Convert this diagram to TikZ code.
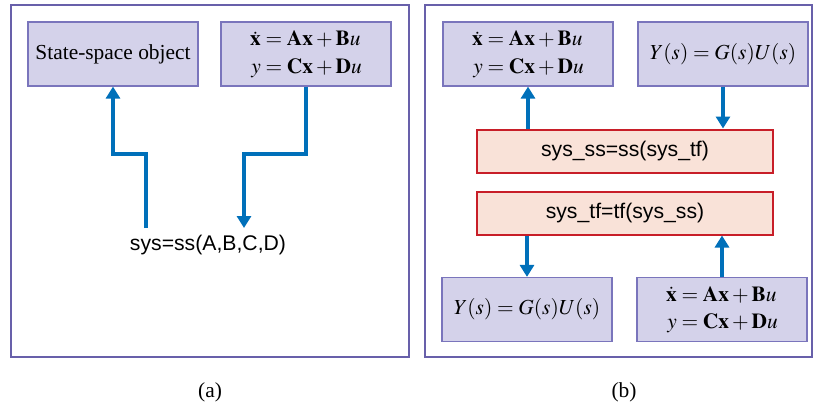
\documentclass[tikz,border=0pt]{standalone}
\usepackage{mathptmx}
\usepackage{fontspec}
\setmainfont{Liberation Serif}
\setsansfont{Liberation Sans}
\usetikzlibrary{arrows.meta}
\definecolor{panelc}{RGB}{104,96,170}
\definecolor{boxfill}{RGB}{212,210,234}
\definecolor{boxline}{RGB}{122,117,188}
\definecolor{redfill}{RGB}{249,226,216}
\definecolor{redline}{RGB}{200,30,40}
\definecolor{arrc}{RGB}{0,112,186}
\newcommand{\sseq}{$\renewcommand{\arraystretch}{1.15}\begin{array}{r@{\;}c@{\;}l}\dot{\mathbf{x}}&=&\mathbf{A}\mathbf{x}+\mathbf{B}u\\ y&=&\mathbf{C}\mathbf{x}+\mathbf{D}u\end{array}$}
\begin{document}
\begin{tikzpicture}[x=0.5pt,y=-0.5pt,
  panel/.style={draw=panelc,line width=1.3pt,fill=white,inner sep=0pt},
  bluebox/.style={draw=boxline,line width=0.6pt,fill=boxfill,inner sep=0pt,minimum width=85pt,minimum height=32pt,font=\fontsize{10.7}{12}\selectfont},
  redbox/.style={draw=redline,line width=1pt,fill=redfill,inner sep=0pt,minimum width=148pt,minimum height=21.5pt,font=\sffamily\fontsize{10.6}{12}\selectfont},
  arr/.style={draw=arrc,line width=1.6pt,-{Triangle[width=7pt,length=6pt]}},
  captext/.style={font=\fontsize{10.7}{12}\selectfont}]
\useasboundingbox (0,0) rectangle (814,407);
% panels
\node[panel,minimum width=199pt,minimum height=176pt] (pa) at (210,181) {};
\node[panel,minimum width=193.5pt,minimum height=176pt] (pb) at (618.5,181) {};
% panel (a)
\node[bluebox] (ss) at (113,54) {State-space object};
\node[bluebox] (eqa) at (306,54) {\sseq};
\node[font=\sffamily\fontsize{10.6}{12}\selectfont,inner sep=0pt] (sys) at (208,245) {sys=ss(A,B,C,D)};
\coordinate (sa) at (146,228);
\coordinate (ja) at (146,154);
\coordinate (jb) at (244,154);
\coordinate (tb) at (244,228);
\draw[arr] (sa) -- (ja) -| (ss.south);
\draw[arr] (eqa.south) |- (jb) -- (tb);
% panel (b)
\node[bluebox] (eqb) at (528,54) {\sseq};
\node[bluebox] (gb) at (723,54) {$Y(s)=G(s)U(s)$};
\node[redbox] (r1) at (625,151) {sys\_ss=ss(sys\_tf)};
\node[redbox] (r2) at (625,213) {sys\_tf=tf(sys\_ss)};
\node[bluebox] (gc) at (527,309.5) {$Y(s)=G(s)U(s)$};
\node[bluebox] (eqc) at (722,309.5) {\sseq};
\draw[arr] (r1.north -| eqb.south) -- (eqb.south);
\draw[arr] (gb.south) -- (gb.south |- r1.north);
\draw[arr] (r2.south -| gc.north) -- (gc.north);
\draw[arr] (eqc.north) -- (eqc.north |- r2.south);
% captions
\node[captext] (ca) at (210,392) {(a)};
\node[captext] (cb) at (624,392) {(b)};
\end{tikzpicture}
\end{document}
